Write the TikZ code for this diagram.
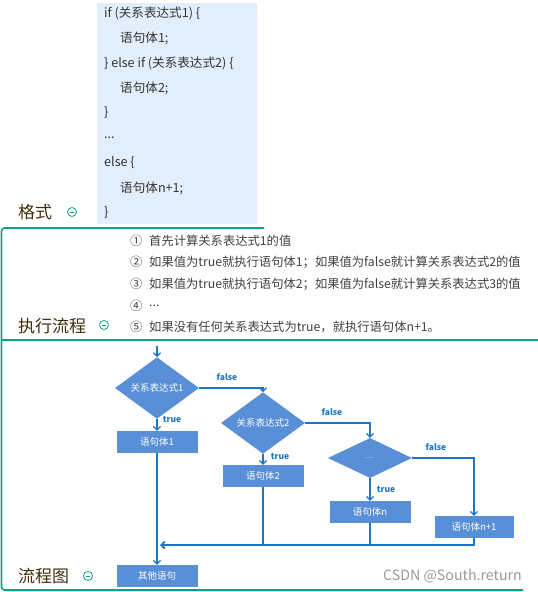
\documentclass[tikz,border=0pt]{standalone}
\usepackage{fontspec}
\setmainfont{Noto Sans CJK SC}
\usetikzlibrary{positioning,arrows.meta,shapes.geometric}
\definecolor{FrameTeal}{RGB}{16,160,130}
\definecolor{FlowBlue}{RGB}{28,118,200}
\definecolor{BoxBlue}{RGB}{88,143,214}
\definecolor{CodeBg}{RGB}{227,238,252}
\definecolor{HeadBrown}{RGB}{62,46,12}

\begin{document}
\begin{tikzpicture}[x=1pt,y=-1pt,
codeline/.style={anchor=west,inner sep=0pt,font=\fontsize{12.6}{14}\selectfont,text=black!80},
stepline/.style={anchor=west,inner sep=0pt,font=\fontsize{12.3}{14}\selectfont,text=black!75},
heading/.style={anchor=west,inner sep=0pt,font=\fontsize{17}{19}\selectfont,text=HeadBrown},
fold/.style={circle,draw=FrameTeal,line width=0.8pt,minimum size=9pt,inner sep=0pt,
path picture={\draw[FrameTeal,line width=0.8pt] ([xshift=-2.2pt]path picture bounding box.center) -- ([xshift=2.2pt]path picture bounding box.center);}},
cond/.style={diamond,fill=BoxBlue,minimum width=84pt,minimum height=40pt,inner sep=0pt,
text=white,font=\fontsize{9.5}{11}\selectfont},
box/.style={rectangle,fill=BoxBlue,minimum width=81pt,minimum height=22pt,inner sep=0pt,
text=white,font=\fontsize{9.5}{11}\selectfont},
flow/.style={draw=FlowBlue,line width=1.2pt},
arrow/.style={flow,-{Straight Barb[length=3.5pt,width=7pt]}},
tf/.style={font=\bfseries\fontsize{8.5}{9}\selectfont,text=FlowBlue,inner sep=0pt}
]
\useasboundingbox (0,0) rectangle (538,592);

% code format
\fill[CodeBg] (97,3) rectangle (257,224);
\node[codeline] (c1) at (104,13) {if (关系表达式1) \{};
\node[codeline] (c2) at (120,38) {语句体1;};
\node[codeline] (c3) at (104,63) {\} else if (关系表达式2) \{};
\node[codeline] (c4) at (120,88) {语句体2;};
\node[codeline] (c5) at (104,113) {\}};
\node[codeline] (c6) at (104,138) {...};
\node[codeline] (c7) at (104,163) {else \{};
\node[codeline] (c8) at (120,188) {语句体n+1;};
\node[codeline] (c9) at (104,213) {\}};

% frame
\draw[FrameTeal,line width=1.6pt,rounded corners=3pt] (264,228) -- (1.5,228) -- (1.5,590) -- (523,590);
\draw[FrameTeal,line width=1.6pt] (1.5,340) -- (538,340);

% headings
\node[heading] (h1) at (18,212) {格式};
\node[fold] (o1) at (72,212) {};
\node[heading] (h2) at (18,326) {执行流程};
\node[fold] (o2) at (104,325) {};
\node[heading] (h3) at (18,576) {流程图};
\node[fold] (o3) at (88,576) {};

% steps
\node[stepline] (n1) at (130,241) {①};
\node[stepline] (s1) at (149,241) {首先计算关系表达式1的值};
\node[stepline] (n2) at (130,262) {②};
\node[stepline] (s2) at (149,262) {如果值为true就执行语句体1；如果值为false就计算关系表达式2的值};
\node[stepline] (n3) at (130,284) {③};
\node[stepline] (s3) at (149,284) {如果值为true就执行语句体2；如果值为false就计算关系表达式3的值};
\node[stepline] (n4) at (130,306) {④};
\node[stepline] (s4) at (149,306) {...};
\node[stepline] (n5) at (130,327) {⑤};
\node[stepline] (s5) at (149,327) {如果没有任何关系表达式为true，就执行语句体n+1。};

% flow chart
\coordinate (start) at (157,346);
\node[cond] (d1) at (157,388) {关系表达式1};
\node[box] (b1) at (157,442) {语句体1};
\node[cond] (d2) at (263,423) {关系表达式2};
\node[box] (b2) at (263,476) {语句体2};
\node[cond,font=\fontsize{7}{8}\selectfont] (d3) at (370,458) {.....};
\node[box] (bn) at (370,512) {语句体n};
\node[box,minimum width=79pt] (bn1) at (474,527) {语句体n+1};
\node[box] (other) at (157,576) {其他语句};
\coordinate (join) at (160,545);

\draw[arrow] (start) -- (d1.north);
\draw[arrow] (d1.south) -- (b1.north);
\draw[arrow] (b1.south) -- (other.north);
\draw[arrow] (d1.east) -| (d2.north);
\draw[arrow] (d2.south) -- (b2.north);
\draw[arrow] (d2.east) -| (d3.north);
\draw[arrow] (d3.south) -- (bn.north);
\draw[arrow] (d3.east) -| (bn1.north);
\draw[flow] (b2.south) -- (b2.south |- join);
\draw[flow] (bn.south) -- (bn.south |- join);
\draw[arrow,line width=1.8pt] (bn1.south) |- (join);

\node[tf] (f1) at (227,377) {false};
\node[tf] (t1) at (172,419) {true};
\node[tf] (f2) at (332,412) {false};
\node[tf] (t2) at (280,456) {true};
\node[tf] (f3) at (436,447) {false};
\node[tf] (t3) at (386,489) {true};

\node[anchor=east,inner sep=0pt,text=black!40,font=\fontsize{14.2}{16}\selectfont] (mark) at (522,576) {CSDN @South.return};
\end{tikzpicture}
\end{document}
